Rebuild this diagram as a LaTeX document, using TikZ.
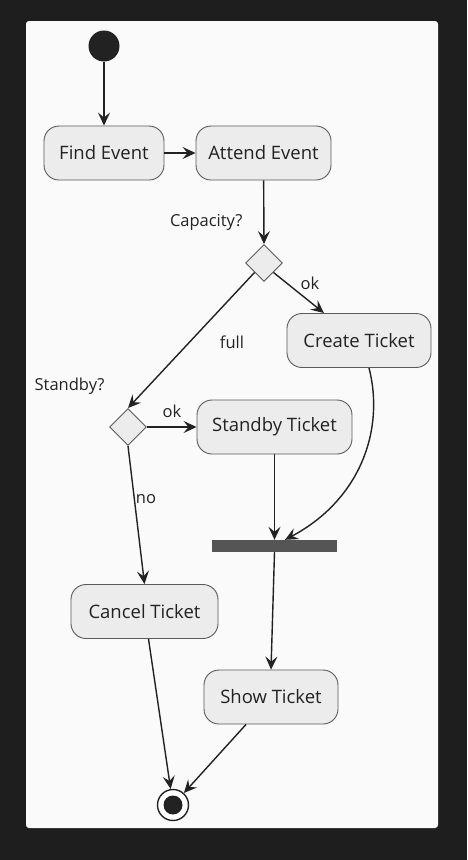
\documentclass[tikz,border=0pt]{standalone}
\usepackage{fontspec}
\setmainfont{Open Sans}
\usetikzlibrary{arrows.meta,shapes.geometric}
\definecolor{bgdark}{HTML}{1E1E1E}
\definecolor{panel}{HTML}{FAFAFA}
\definecolor{nodefill}{HTML}{ECECEC}
\definecolor{nodeedge}{HTML}{5A5A5A}
\definecolor{ink}{HTML}{222222}
\definecolor{barcol}{HTML}{555555}
\tikzset{
  act/.style={rectangle, rounded corners=15pt, draw=nodeedge, fill=nodefill, line width=0.9pt,
    minimum height=54pt, inner xsep=0pt, font=\fontsize{18.5}{20}\selectfont, text=ink},
  dec/.style={diamond, draw=nodeedge, fill=nodefill, line width=0.9pt, minimum width=37pt, minimum height=37pt, inner sep=0pt},
  flow/.style={draw=ink, line width=1.4pt, -{Stealth[length=13pt,width=12pt,inset=5pt]}},
  lbl/.style={font=\fontsize{16.5}{18}\selectfont, text=ink},
}
\begin{document}
\begin{tikzpicture}[x=1pt,y=-1pt]
\fill[bgdark] (0,0) rectangle (467,860);
\useasboundingbox (0,0) rectangle (467,860);
\fill[panel, rounded corners=3pt] (26,21) rectangle (438,828);

\node[circle, fill=ink, minimum size=31pt, inner sep=0pt] (start) at (104,46) {};
\node[act, minimum width=120pt] (find) at (104,153) {Find Event};
\node[act, minimum width=135pt] (attend) at (263.5,153) {Attend Event};
\node[dec] (d1) at (264,263) {};
\node[act, minimum width=144pt] (create) at (359,340.5) {Create Ticket};
\node[dec] (d2) at (128,427) {};
\node[act, minimum width=155pt] (standby) at (274.5,427) {Standby Ticket};
\node[fill=barcol, minimum width=125pt, minimum height=12pt, inner sep=0pt] (bar) at (274.5,546) {};
\node[act, minimum width=147pt] (cancel) at (144.5,611.5) {Cancel Ticket};
\node[act, minimum width=134pt] (show) at (271,697) {Show Ticket};
\node[circle, draw=ink, fill=white, line width=1.4pt, minimum size=31pt, inner sep=0pt] (end) at (173,805) {};
\node[circle, fill=ink, minimum size=19pt, inner sep=0pt] (endin) at (end.center) {};

\node[lbl, anchor=east] (capq) at (246,222) {Capacity?};
\node[lbl, anchor=east] (sbq) at (108,386) {Standby?};
\node[lbl] (okA) at (310,283) {ok};
\node[lbl] (fullL) at (232,342) {full};
\node[lbl] (okB) at (172,411) {ok};
\node[lbl] (noL) at (146,499) {no};

\draw[flow] (start) -- (find);
\draw[flow] (find) -- (attend);
\draw[flow] (attend) -- (d1.north);
\draw[flow] (d1.south east) -- (create.north west -| 324,313);
\draw[flow] (d1.south west) -- (d2.north);
\draw[flow] (d2.east) -- (standby.west);
\draw[flow] (d2.south) -- (cancel.north);
\draw[flow] (standby.south) -- (bar.north -| standby.south);
\draw[flow] (create.south -| 369,368) .. controls (385,430) and (360,500) .. (bar.north -| 285,540);
\draw[flow] (bar.south) -- (show.north);
\draw[flow] (cancel.south) ++(4,0) coordinate (cs) (cs) -- (end);
\draw[flow] (show.south) ++(-25,0) coordinate (ss) (ss) -- (end);
\end{tikzpicture}
\end{document}
